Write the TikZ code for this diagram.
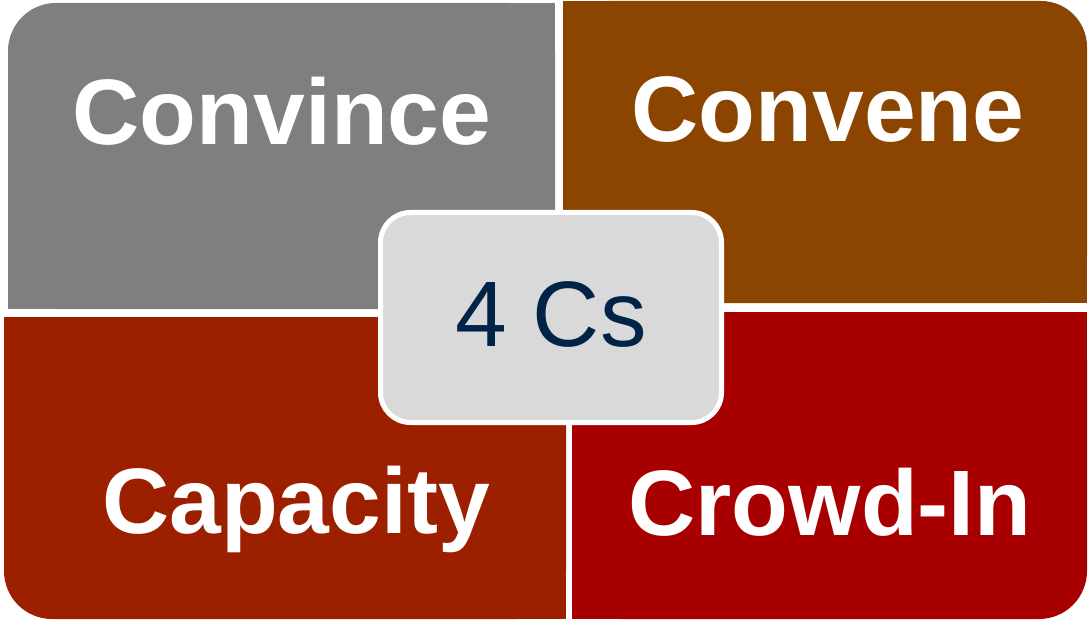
\documentclass[tikz,border=0pt]{standalone}
\usepackage{fontspec}
\setmainfont{Liberation Sans}
\definecolor{cvgray}{HTML}{7F7F7F}
\definecolor{cvbrown}{HTML}{8B4500}
\definecolor{cvrust}{HTML}{9C2000}
\definecolor{cvred}{HTML}{A80000}
\definecolor{hubfill}{HTML}{D9D9D9}
\definecolor{hubtext}{HTML}{002347}
\begin{document}
\begin{tikzpicture}[x=1bp,y=-1bp,
  quadlabel/.style={anchor=base,inner sep=0pt,text=white,
    font=\fontsize{93bp}{100bp}\selectfont\bfseries},
  hubbox/.style={draw=white,line width=5bp,fill=hubfill,rounded corners=30bp,
    minimum width=341bp,minimum height=210bp,inner sep=0pt},
  hublabel/.style={anchor=base,inner sep=0pt,text=hubtext,
    font=\fontsize{93bp}{100bp}\selectfont}]
\useasboundingbox (0,0) rectangle (1089,620);

% Convince: rounded top-left corner
\fill[cvgray, rounded corners=48bp] (8,3) rectangle (555,309);
\fill[cvgray] (70,3) rectangle (555,309);
\fill[cvgray] (8,70) rectangle (555,309);

% Convene: rounded top-right corner
\fill[cvbrown, rounded corners=46bp] (563,1) rectangle (1087,303);
\fill[cvbrown] (563,1) rectangle (1020,303);
\fill[cvbrown] (563,70) rectangle (1087,303);

% Capacity: rounded bottom-left corner
\fill[cvrust, rounded corners=48bp] (4,317) rectangle (566,619);
\fill[cvrust] (70,317) rectangle (566,619);
\fill[cvrust] (4,317) rectangle (566,550);

% Crowd-In: rounded bottom-right corner
\fill[cvred, rounded corners=48bp] (572,312) rectangle (1087,619);
\fill[cvred] (572,312) rectangle (1020,619);
\fill[cvred] (572,312) rectangle (1087,550);

% quadrant labels
\node[quadlabel] (convince) at (282,145) {Convince};
\node[quadlabel] (convene)  at (828,142) {Convene};
\node[quadlabel] (capacity) at (296,533) {Capacity};
\node[quadlabel] (crowdin)  at (830,535) {Crowd-In};

% central hub
\node[hubbox] (hub) at (551,317.5) {};
\node[hublabel] (hubname) at (551,346) {4 Cs};
\end{tikzpicture}
\end{document}
